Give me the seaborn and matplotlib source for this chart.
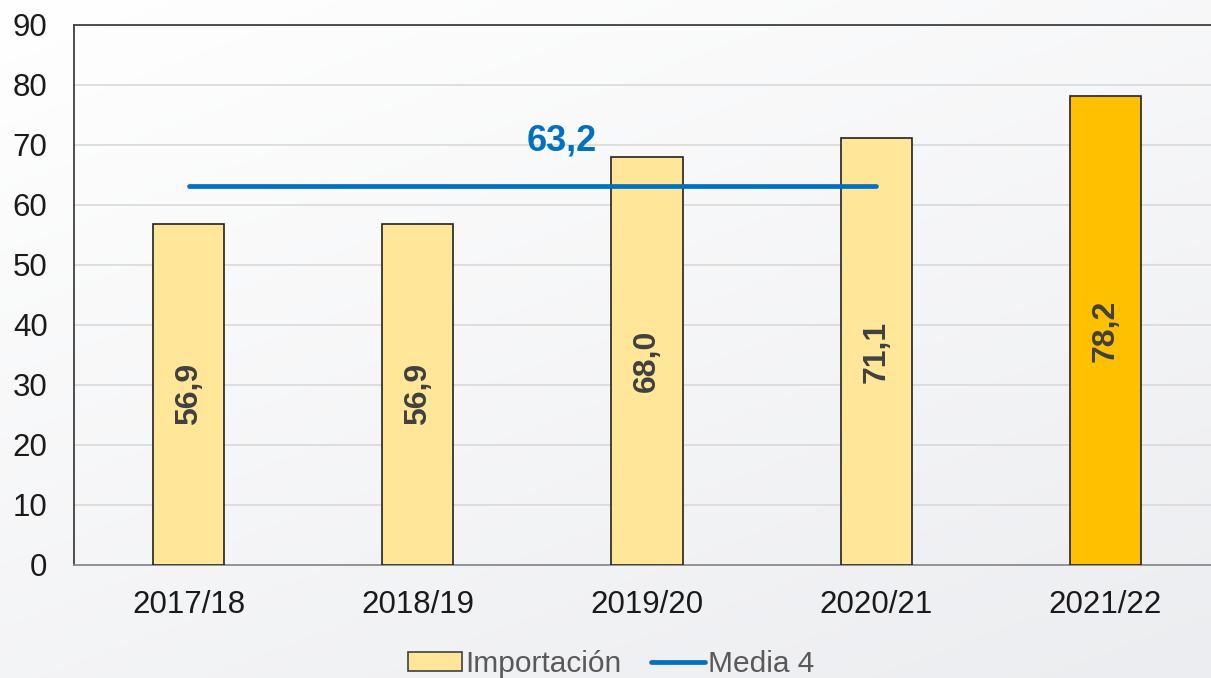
import numpy as np
import pandas as pd
import matplotlib
matplotlib.use("Agg")
import matplotlib.pyplot as plt
import seaborn as sns
from matplotlib.patches import Patch
from matplotlib.lines import Line2D

campanas = ["2017/18", "2018/19", "2019/20", "2020/21", "2021/22"]
importacion = [56.9, 56.9, 68.0, 71.1, 78.2]
etiquetas = ["56,9", "56,9", "68,0", "71,1", "78,2"]
media_valor = 63.2
media_etiqueta = "63,2"
colores = ["#FFE699", "#FFE699", "#FFE699", "#FFE699", "#FFC000"]

sns.set_theme(style="white")
plt.rcParams["font.family"] = ["Liberation Sans", "DejaVu Sans"]

fig = plt.figure(figsize=(12.11, 6.78), dpi=100)

# background gradient
bg = fig.add_axes([0, 0, 1, 1], zorder=-10)
yy, xx = np.mgrid[0:1:200j, 0:1:200j]
g = np.clip(0.6 * yy + 0.4 * xx, 0, 1)
c0 = np.array([1.0, 1.0, 1.0])
c1 = np.array([0xEC, 0xED, 0xF0]) / 255.0
img = c0[None, None, :] * (1 - g[..., None]) + c1[None, None, :] * g[..., None]
bg.imshow(img, aspect="auto", extent=[0, 1, 0, 1], origin="upper")
bg.axis("off")

ax = fig.add_axes([74 / 1211, 1 - 565 / 678, (1220 - 74) / 1211, (565 - 25) / 678])
ax.set_facecolor("none")

df = pd.DataFrame({"campana": campanas, "valor": importacion})
sns.barplot(data=df, x="campana", y="valor", hue="campana", palette=colores,
            saturation=1, width=0.31, edgecolor="#222222", linewidth=1.2,
            legend=False, ax=ax, zorder=3)

for i, (v, t) in enumerate(zip(importacion, etiquetas)):
    ax.text(i, v / 2, t, rotation=90, ha="center", va="center",
            fontsize=23, fontweight="bold", color="#404040", zorder=5)

ax.plot([0, 3], [media_valor, media_valor], color="#0070C0", lw=3.4, zorder=6,
        solid_capstyle="round")
ax.text(1.63, 70.6, media_etiqueta, ha="center", va="center", fontsize=26,
        fontweight="bold", color="#0070C0", zorder=6)

ax.set_ylim(0, 90)
ax.set_xlim(-0.5, 4.5)
ax.set_yticks(range(0, 91, 10))
ax.yaxis.grid(True, color="#D9D9D9", lw=1.2, zorder=0)
ax.set_axisbelow(True)
ax.set_xlabel("")
ax.set_ylabel("")
ax.tick_params(axis="y", length=0, pad=19, labelsize=22.5, labelcolor="#1a1a1a")
ax.tick_params(axis="x", length=0, pad=18, labelsize=22.5, labelcolor="#1a1a1a")
for s in ["top", "left"]:
    ax.spines[s].set_color("#404040")
    ax.spines[s].set_linewidth(1.3)
ax.spines["bottom"].set_color("#8c8c8c")
ax.spines["bottom"].set_linewidth(1.3)
ax.spines["right"].set_visible(False)

handles = [Patch(facecolor="#FFE699", edgecolor="#404040", linewidth=1.2, label="Importación"),
           Line2D([0], [0], color="#0070C0", lw=3.4, label="Media 4")]
fig.legend(handles=handles, loc="center", bbox_to_anchor=(611 / 1211, 1 - 664 / 678),
           ncol=2, frameon=False, fontsize=21.5, labelcolor="#595959",
           handlelength=1.8, handleheight=0.6, handletextpad=0.1, columnspacing=1.0)

fig.savefig("out.png", dpi=100)
